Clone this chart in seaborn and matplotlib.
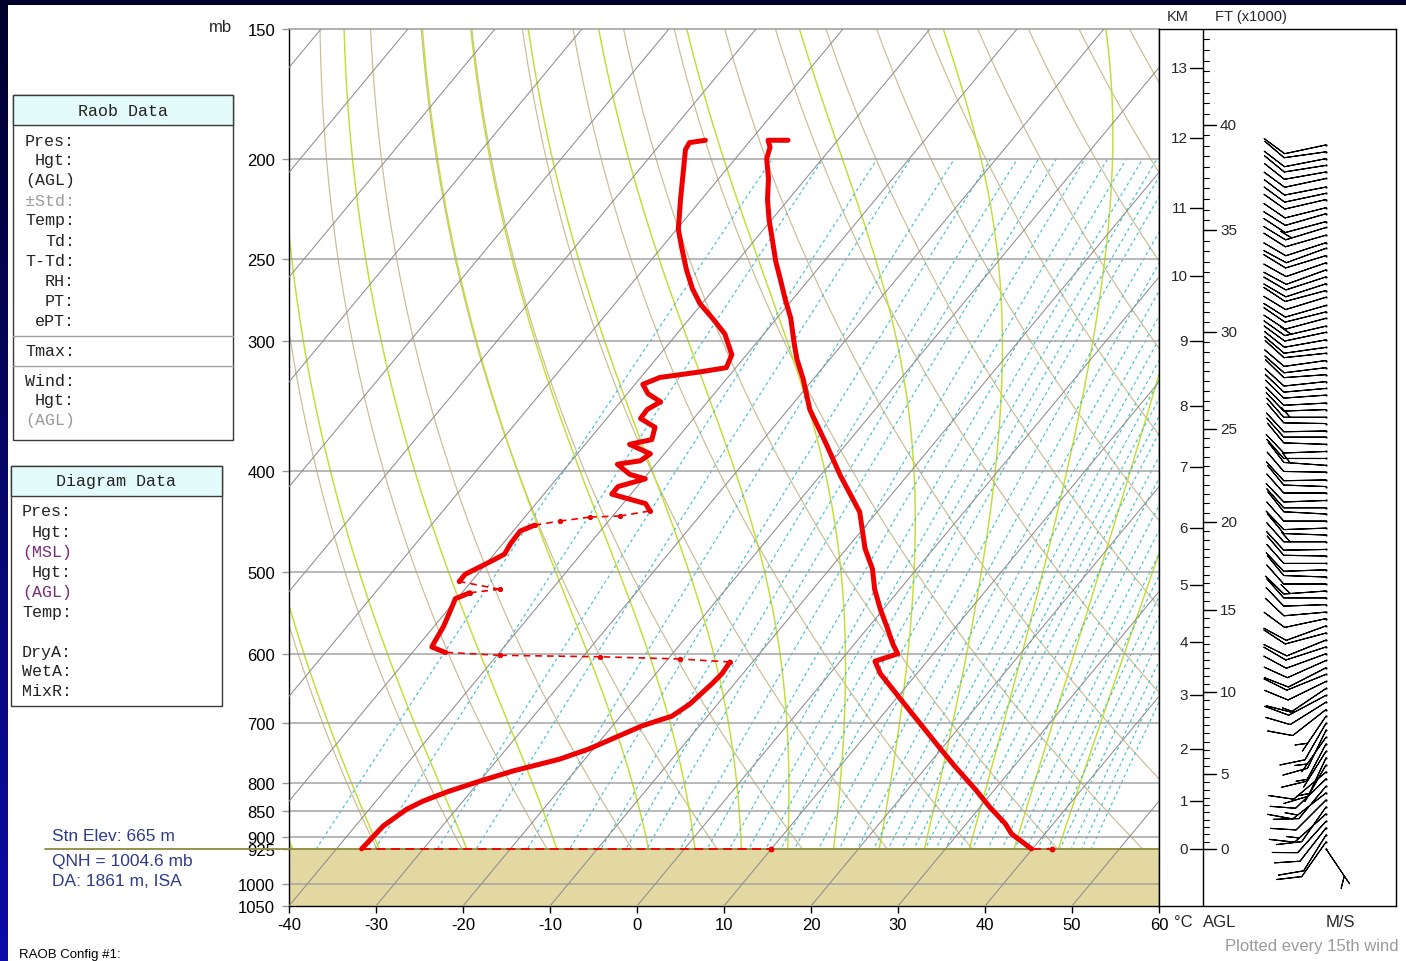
import numpy as np
import pandas as pd
import matplotlib
matplotlib.use("Agg")
import matplotlib.pyplot as plt
import seaborn as sns
from matplotlib.patches import Rectangle
from matplotlib.lines import Line2D
from matplotlib.ticker import NullLocator
from matplotlib.colors import LinearSegmentedColormap

# ------------------------------------------------------------------ data
pressure_ticks = [150, 200, 250, 300, 400, 500, 600, 700, 800, 850, 900, 925, 1000, 1050]
temp_ticks = [-40, -30, -20, -10, 0, 10, 20, 30, 40, 50, 60]

# temperature profile (hPa, degC), surface upward
temp_p = [925, 895, 875, 843, 810, 771, 741, 701, 663, 627, 610, 600, 587, 568, 543,
          520, 497, 475, 438, 404, 378, 349, 326, 312, 302, 285, 273, 261, 251, 239,
          229, 219, 209, 200, 195, 192, 192]
temp_c = [39.9, 36.2, 34.5, 31.1, 27.7, 23.3, 19.9, 15.2, 10.5, 5.8, 4.0, 5.9, 4.4, 2.4, -0.4,
          -2.9, -5.1, -7.9, -12.0, -17.7, -22.1, -27.5, -31.2, -33.8, -35.5, -38.4, -40.9, -43.4, -45.6, -48.1,
          -50.3, -52.4, -54.3, -56.4, -57.1, -58.0, -55.7]

# dew point profile (hPa, degC), surface upward
dew_p = [925, 879, 847, 832, 815, 796, 778, 758, 741, 704, 689, 671, 642, 627, 611,
         607, 604, 602, 598, 591, 583, 565, 546, 531, 524, 520, 511, 503, 489, 481,
         470, 457, 451, 447, 443, 442, 437, 430, 421, 414, 407, 403, 394, 391, 385,
         377, 373, 363, 356, 349, 343, 337, 330, 325, 321, 318, 309, 295, 285, 276,
         267, 256, 244, 234, 219, 205, 196, 193, 192]
dew_c = [-37.1, -36.8, -35.7, -34.6, -32.7, -30.0, -27.1, -22.9, -20.5, -16.6, -14.1, -13.2, -12.6, -12.4, -12.6,
         -18.6, -28.0, -39.7, -46.3, -48.3, -48.5, -48.9, -49.6, -50.2, -49.1, -46.0, -51.4, -51.4, -49.7, -48.8,
         -49.1, -49.2, -48.1, -45.6, -42.5, -39.2, -36.2, -37.4, -42.2, -42.2, -39.8, -42.0, -44.4, -42.1, -41.6,
         -44.9, -42.8, -43.6, -46.1, -46.2, -45.4, -47.6, -49.1, -47.8, -43.7, -41.1, -41.7, -44.5, -47.4, -50.2,
         -52.5, -55.0, -57.6, -59.8, -62.4, -64.9, -66.6, -66.8, -65.2]
# pressure layers where the dew point record is sparse (thin dashed connectors)
dew_sparse_layers = [(597, 612), (510, 525), (436, 452)]

sfc_pres = 925
sfc_temp_mark = 42.2
sfc_dew_mark = 10.0

# height scale (km AGL) read at pressure levels
km_labels = [0, 1, 2, 3, 4, 5, 6, 7, 8, 9, 10, 11, 12, 13]
km_pres = [925, 832, 741, 657, 585, 515, 454, 396, 346, 300, 259.5, 223, 191, 163.6]
ft_labels = [0, 5, 10, 15, 20, 25, 30, 35, 40]

# winds (hPa, direction deg, speed m/s), surface upward
wind_p = [925, 911, 897, 883, 870, 856, 843, 830, 817, 805, 792, 780, 768, 756, 745, 733, 722, 711,
          700, 689, 679, 668, 658, 648, 638, 628, 619, 609, 600, 591, 582, 573, 564, 555, 547, 538,
          530, 522, 514, 506, 498, 491, 483, 476, 468, 461, 454, 447, 440, 434, 427, 420, 414, 408,
          401, 395, 389, 383, 377, 371, 366, 360, 355, 349, 344, 338, 333, 328, 323, 318, 313, 308,
          304, 299, 294, 290, 285, 281, 277, 272, 268, 264, 260, 256, 252, 248, 244, 241, 237, 233,
          230, 226, 223, 219, 216, 213, 209, 206, 203, 200, 197, 194]
wind_dir = [146, 215, 212, 218, 222, 228, 215, 225, 232, 220, 226, 230, 210, 205, 212, 208, 215, 206,
            210, 214, 232, 238, 242, 236, 244, 248, 243, 246, 250, 252, 248, 255, 250, 258, 265, 268,
            270, 266, 270, 272, 268, 270, 271, 269, 270, 272, 268, 270, 273, 270, 268, 270, 272, 269,
            271, 274, 270, 268, 272, 270, 269, 271, 270, 268, 267, 266, 265, 264, 266, 263, 262, 264,
            262, 260, 258, 257, 255, 256, 254, 253, 255, 252, 252, 250, 251, 253, 250, 252, 254, 253,
            255, 254, 256, 257, 258, 259, 258, 260, 261, 259, 262, 258]
wind_spd = [5, 10, 10, 10, 10, 15, 10, 10, 15, 10, 10, 10, 5, 10, 5, 10, 5, 10,
            10, 5, 10, 10, 15, 10, 10, 10, 10, 10, 10, 10, 10, 10, 10, 10, 10, 10,
            10, 15, 10, 10, 10, 10, 10, 10, 15, 10, 10, 10, 10, 10, 10, 10, 10, 10,
            10, 15, 10, 10, 10, 10, 10, 10, 15, 10, 10, 10, 10, 10, 10, 10, 10, 10,
            10, 10, 10, 15, 10, 10, 10, 10, 10, 10, 10, 10, 10, 10, 10, 10, 10, 15,
            10, 10, 10, 10, 10, 10, 10, 10, 10, 10, 10, 10]

# diagram reference line families
isotherm_c = list(range(-130, 70, 10))
dry_adiabat_c = list(range(-40, 260, 10))
moist_adiabat_c = [-40, -30, -20, -10, 0, 5, 10, 15, 20, 25, 30, 35, 40, 45]
mixing_ratio_gkg = [0.1, 0.2, 0.4, 0.6, 1, 1.5, 2, 2.5, 3, 4, 5, 6, 7, 8, 9, 10, 12, 14, 16, 18,
                    20, 22, 24, 26, 28, 30, 33, 36, 40, 44, 48, 52, 56, 60, 65, 70, 75, 80]

raob_labels = ["Pres:", "Hgt:", "(AGL)", "\u00b1Std:", "Temp:", "Td:", "T-Td:", "RH:", "PT:", "ePT:"]
raob_extra = ["Tmax:"]
raob_wind = ["Wind:", "Hgt:", "(AGL)"]
diag_labels = ["Pres:", "Hgt:", "(MSL)", "Hgt:", "(AGL)", "Temp:"]
diag_extra = ["DryA:", "WetA:", "MixR:"]

# ------------------------------------------------------------------ style
sns.set_theme(style="white")
plt.rcParams['font.family'] = ['Liberation Sans', 'DejaVu Sans']
plt.rcParams['axes.unicode_minus'] = False
MONO = ['Liberation Mono', 'DejaVu Sans Mono']

W, H = 1406, 962
SKEW = 43.0
P_BOT, P_TOP = 1050.0, 150.0
RED = '#ee0000'


def skew_x(t, p):
    return np.asarray(t, float) + SKEW * np.log(P_BOT / np.asarray(p, float))


def fx(px):
    return px / W


def fy(py):
    return 1 - py / H


fig = plt.figure(figsize=(W / 100, H / 100), dpi=100)
fig.patch.set_facecolor('white')

# navy frame
band = fig.add_axes([0, 0, 8 / W, 1])
band.imshow(np.linspace(0, 1, 256).reshape(-1, 1), aspect='auto',
            cmap=LinearSegmentedColormap.from_list('navy', ['#00002c', '#0c0ca8']))
band.axis('off')
fig.add_artist(Rectangle((0, fy(6)), 1, 6 / H, transform=fig.transFigure,
                         color='#00002a', lw=0, zorder=20))

# ------------------------------------------------------------------ main skew-T axes
ax = fig.add_axes([fx(289), fy(907), 870 / W, 877 / H])
ax.set_facecolor('white')
ax.set_yscale('log')

p_line = np.geomspace(P_BOT, P_TOP, 240)
for t in isotherm_c:
    ax.plot(skew_x([t, t], [P_BOT, P_TOP]), [P_BOT, P_TOP], color='#8d8d8d', lw=0.75, zorder=2.6)

for th in dry_adiabat_c:
    tk = (th + 273.15) * (p_line / 1000.0) ** 0.2857 - 273.15
    ax.plot(skew_x(tk, p_line), p_line, color='#cbbc92', lw=0.85, zorder=1.6)


def moist_profile(tw_c, p_grid):
    Rd, cp, Lv, eps = 287.04, 1005.7, 2.501e6, 0.622

    def f(T, p):
        es = 6.112 * np.exp(17.67 * (T - 273.15) / (T - 29.65))
        ws = eps * es / (p - es)
        return (Rd * T + Lv * ws) / (p * (cp + Lv ** 2 * ws * eps / (Rd * T ** 2)))

    T = np.empty_like(p_grid)
    T[0] = tw_c + 273.15
    for i in range(1, len(p_grid)):
        h = p_grid[i] - p_grid[i - 1]
        p0, T0 = p_grid[i - 1], T[i - 1]
        k1 = f(T0, p0)
        k2 = f(T0 + h * k1 / 2, p0 + h / 2)
        k3 = f(T0 + h * k2 / 2, p0 + h / 2)
        k4 = f(T0 + h * k3, p0 + h)
        T[i] = T0 + h * (k1 + 2 * k2 + 2 * k3 + k4) / 6
    return T - 273.15


p_up = np.linspace(1000, 150, 341)
p_dn = np.linspace(1000, 1050, 21)
for tw in moist_adiabat_c:
    tu = moist_profile(tw, p_up)
    tdn = moist_profile(tw, p_dn)
    pp = np.concatenate([p_dn[::-1], p_up[1:]])
    tt = np.concatenate([tdn[::-1], tu[1:]])
    ax.plot(skew_x(tt, pp), pp, color='#c3dd35', lw=1.05, zorder=1.7)

p_mix = np.geomspace(P_BOT, 200, 120)
for w in mixing_ratio_gkg:
    e = w * p_mix / (622.0 + w)
    lnr = np.log(e / 6.112)
    tdm = 243.5 * lnr / (17.67 - lnr)
    ax.plot(skew_x(tdm, p_mix), p_mix, color='#44bfd2', lw=0.85, ls=(0, (2.6, 2.6)), zorder=1.8)

# ground below station
ax.axhspan(sfc_pres, P_BOT, color='#e3d8a2', lw=0, zorder=2.2)

# isobars
for p in pressure_ticks:
    if p in (P_TOP, P_BOT):
        continue
    if p == sfc_pres:
        ax.plot([-0.2805, 1], [p, p], transform=ax.get_yaxis_transform(), color='#8d8a3e',
                lw=1.3, clip_on=False, zorder=3)
    else:
        ax.axhline(p, color='#a4a4a4', lw=1.1, zorder=2.5)

# temperature trace
t_df = pd.DataFrame({'x': skew_x(temp_c, temp_p), 'p': temp_p})
sns.lineplot(data=t_df, x='x', y='p', sort=False, estimator=None, color=RED, lw=3.6,
             ax=ax, zorder=6)

# dew point trace: solid runs + thin dashed sparse connectors
dp = np.array(dew_p, float)
dc = np.array(dew_c, float)
sparse = np.zeros(len(dp) - 1, bool)
for lo, hi in dew_sparse_layers:
    sparse |= (dp[:-1] >= lo) & (dp[:-1] <= hi) & (dp[1:] >= lo) & (dp[1:] <= hi)
runs, cur = [], [0]
for i in range(len(dp) - 1):
    if sparse[i]:
        if len(cur) > 1:
            runs.append(cur)
        cur = [i + 1]
        ax.plot(skew_x(dc[i:i + 2], dp[i:i + 2]), dp[i:i + 2], color=RED, lw=1.2,
                ls=(0, (4, 3)), marker='o', ms=2.6, zorder=6)
    else:
        cur.append(i + 1)
if len(cur) > 1:
    runs.append(cur)
dew_df = pd.concat([pd.DataFrame({'x': skew_x(dc[idx], dp[idx]), 'p': dp[idx], 'run': k})
                    for k, idx in enumerate(runs)], ignore_index=True)
sns.lineplot(data=dew_df, x='x', y='p', units='run', estimator=None, sort=False,
             color=RED, lw=3.6, ax=ax, zorder=6)

# surface markers
for start, mark in ((dew_c[0], sfc_dew_mark), (temp_c[0], sfc_temp_mark)):
    ax.plot(skew_x([start, mark], [sfc_pres, sfc_pres]), [sfc_pres, sfc_pres], color=RED,
            lw=1.3, ls=(0, (5, 3)), zorder=6)
    ax.plot(skew_x([mark], [sfc_pres]), [sfc_pres], 'o', color=RED, ms=3.2, zorder=6)

ax.set_ylim(P_BOT, P_TOP)
ax.set_xlim(-40, 60)
ax.set_xlabel('')
ax.set_ylabel('')
ax.set_yticks(pressure_ticks)
ax.set_yticklabels([str(p) for p in pressure_ticks])
ax.yaxis.set_minor_locator(NullLocator())
ax.set_xticks(temp_ticks)
ax.set_xticklabels([str(t) for t in temp_ticks])
ax.tick_params(axis='y', which='major', direction='out', length=5, width=1, color='#9a9a9a',
               labelsize=12, pad=5, left=True, labelcolor='black')
ax.tick_params(axis='x', which='major', direction='out', length=5, width=1, color='black',
               labelsize=12, pad=3, bottom=True, labelcolor='black')
for s in ('left', 'bottom', 'right'):
    ax.spines[s].set_color('black')
    ax.spines[s].set_linewidth(1.0)
ax.spines['top'].set_color('#9a9a9a')
ax.spines['top'].set_linewidth(1.1)
ax.grid(False)

fig.text(fx(232), fy(27), 'mb', ha='right', va='center', fontsize=12)
fig.text(fx(1183), fy(923), '\u00b0C', ha='center', va='center', fontsize=12)

# ------------------------------------------------------------------ height / wind panel
ax2 = fig.add_axes([fx(1159), fy(907), 237 / W, 877 / H])
ax2.set_facecolor('white')
ax2.set_yscale('log')
ax2.set_ylim(P_BOT, P_TOP)
ax2.set_xlim(0, 237)
ax2.yaxis.set_minor_locator(NullLocator())
ax2.set_xticks([])
ax2.set_yticks([])
ax2.tick_params(which='both', left=False, bottom=False, labelleft=False, labelbottom=False)
for s in ax2.spines.values():
    s.set_color('black')
    s.set_linewidth(1.0)

ax2.axvline(44, color='black', lw=1.0)

km_arr = np.array(km_labels, float)
lnp_km = np.log(np.array(km_pres, float))


def height_to_p(z_km):
    z = np.asarray(z_km, float)
    lnp = np.interp(z, km_arr, lnp_km)
    slope = (lnp_km[-1] - lnp_km[-2]) / (km_arr[-1] - km_arr[-2])
    lnp = np.where(z > km_arr[-1], lnp_km[-1] + slope * (z - km_arr[-1]), lnp)
    return np.exp(lnp)


for k, p in zip(km_labels, km_pres):
    ax2.plot([31, 44], [p, p], color='black', lw=1.0)
    ax2.text(29, p, str(k), ha='right', va='center', fontsize=11)

for f in np.arange(0, 44.5, 0.5):
    p = float(height_to_p(f * 0.3048))
    ax2.plot([44, 50], [p, p], color='black', lw=0.8)
for f in ft_labels:
    p = float(height_to_p(f * 0.3048))
    ax2.plot([44, 57], [p, p], color='black', lw=1.0)
    ax2.text(61, p, str(f), ha='left', va='center', fontsize=11)

wd = np.deg2rad(np.array(wind_dir, float))
ws = np.array(wind_spd, float)
u = -ws * np.sin(wd)
v = -ws * np.cos(wd)
bx = np.full(len(wind_p), 167.0)
ax2.barbs(bx, np.array(wind_p, float), u, v, length=7.8,
          sizes=dict(height=0.45, width=0.8, spacing=0.15),
          linewidth=0.8, color='black', zorder=3)
ax2.scatter(bx, wind_p, s=2.5, color='black', zorder=4, linewidths=0)

fig.text(fx(1178), fy(17), 'KM', ha='center', va='center', fontsize=10.5)
fig.text(fx(1251), fy(17), 'FT (x1000)', ha='center', va='center', fontsize=10.5)
fig.text(fx(1220), fy(923), 'AGL', ha='center', va='center', fontsize=12)
fig.text(fx(1340), fy(923), 'M/S', ha='center', va='center', fontsize=12)
fig.text(fx(1225), fy(947), 'Plotted every 15th wind', ha='left', va='center', fontsize=12,
         color='#9a9a9a')

# ------------------------------------------------------------------ left text panels
STN = '#2e3a87'
fig.text(fx(52), fy(837), 'Stn Elev: 665 m', ha='left', va='center', fontsize=12.5, color=STN)
fig.text(fx(52), fy(862), 'QNH = 1004.6 mb', ha='left', va='center', fontsize=12.5, color=STN)
fig.text(fx(52), fy(882), 'DA: 1861 m, ISA', ha='left', va='center', fontsize=12.5, color=STN)
fig.text(fx(19), fy(955), 'RAOB Config #1:', ha='left', va='center', fontsize=9.5, color='black')


def info_box(x0, y0, x1, y1, title, header_h=30):
    fig.add_artist(Rectangle((fx(x0), fy(y1)), (x1 - x0) / W, (y1 - y0) / H,
                             transform=fig.transFigure, fc='white', ec='#3a3a3a', lw=1.0))
    fig.add_artist(Rectangle((fx(x0), fy(y0 + header_h)), (x1 - x0) / W, header_h / H,
                             transform=fig.transFigure, fc='#e4fbfb', ec='#3a3a3a', lw=1.0))
    fig.text(fx((x0 + x1) / 2), fy(y0 + header_h / 2), title, ha='center', va='center',
             family=MONO, fontsize=12, color='#222222')


def sep(x0, x1, y):
    fig.add_artist(Line2D([fx(x0), fx(x1)], [fy(y), fy(y)], transform=fig.transFigure,
                          color='#a0a0a0', lw=1.0))


def label(x, y, s, color='#222222'):
    fig.text(fx(x), fy(y), s, ha='right', va='center', family=MONO, fontsize=12, color=color)


GRAY = '#9a9a9a'
PURPLE = '#7a2a7a'
info_box(13, 96, 233, 441, 'Raob Data')
for i, s in enumerate(raob_labels):
    label(75, 141 + 20 * i, s, GRAY if s.startswith('\u00b1') else '#222222')
sep(13, 233, 337)
label(75, 352, raob_extra[0])
sep(13, 233, 367)
for i, s in enumerate(raob_wind):
    label(75, 381 + 20 * i, s, GRAY if i == 2 else '#222222')

info_box(11, 467, 222, 707, 'Diagram Data')
for i, s in enumerate(diag_labels):
    label(72, 512 + 20 * i, s, PURPLE if s.startswith('(') else '#222222')
for i, s in enumerate(diag_extra):
    label(72, 652 + 20 * i, s)

fig.savefig('out.png', dpi=100, facecolor='white')
